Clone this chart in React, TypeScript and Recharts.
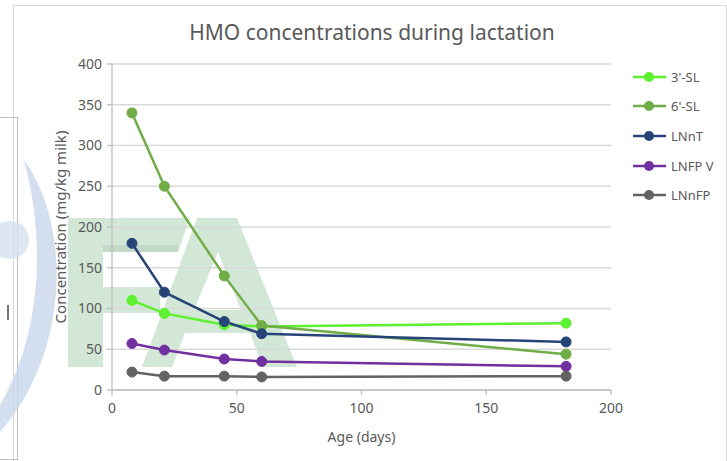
import React from "react";
import { CartesianGrid, Line, LineChart, XAxis, YAxis } from "recharts";

const DAYS = [8, 21, 45, 60, 182];
const SL3 = [110, 94, 80, 78, 82];
const SL6 = [340, 250, 140, 79, 44];
const LNNT = [180, 120, 84, 69, 59];
const LNFPV = [57, 49, 38, 35, 29];
const LNNFP = [22, 17, 17, 16, 17];

const X_TICKS = [0, 50, 100, 150, 200];
const Y_TICKS = [0, 50, 100, 150, 200, 250, 300, 350, 400];

const SERIES = [
  { key: "3'-SL", values: SL3, color: "#5cf02e" },
  { key: "6'-SL", values: SL6, color: "#70ad47" },
  { key: "LNnT", values: LNNT, color: "#264478" },
  { key: "LNFP V", values: LNFPV, color: "#7030a0" },
  { key: "LNnFP", values: LNNFP, color: "#636363" },
];

const data = DAYS.map((d, i) => {
  const row: Record<string, number> = { day: d };
  SERIES.forEach((s) => (row[s.key] = s.values[i]));
  return row;
});

const FONT = "'Noto Sans', 'Open Sans', sans-serif";
const GREY = "#595959";

const LegendBox = () => (
  <div style={{ position: "absolute", left: 632, top: 62, fontFamily: FONT, fontSize: 13, color: GREY }}>
    {SERIES.map((s) => (
      <div key={s.key} style={{ display: "flex", alignItems: "center", height: 29.6 }}>
        <svg width={36} height={12}>
          <line x1={1} y1={6} x2={34} y2={6} stroke={s.color} strokeWidth={2.5} />
          <circle cx={17} cy={6} r={5} fill={s.color} />
        </svg>
        <span style={{ marginLeft: 3 }}>{s.key}</span>
      </div>
    ))}
  </div>
);

// faint logo behind the chart (decoration only)
const Watermark = () => (
  <svg width={727} height={461} style={{ position: "absolute", left: 0, top: 0 }}>
    <g opacity={0.8}>
      <path d="M24,160 C70,222 72,350 0,432 L0,405 C38,340 48,250 24,160 Z" fill="#c9d8ec" />
      <circle cx={10} cy={240} r={19} fill="#d5e0ef" />
    </g>
    <rect x={7} y={305} width={2} height={15} fill="#777" />
    <g fill="#a8d0b0" opacity={0.5}>
      <path d="M68,218 L190,218 L178,252 L103,252 L103,287 L160,287 L160,313 L103,313 L103,367 L68,367 Z" />
      <path
        fillRule="evenodd"
        d="M197,218 L237,218 L297,367 L263,367 L250,333 L185,333 L172,367 L142,367 Z M218,252 L241,310 L194,310 Z"
      />
    </g>
    <rect x={103} y={245} width={75} height={7} fill="#9bb8a4" opacity={0.3} />
  </svg>
);

export default function App() {
  return (
    <div style={{ position: "absolute", left: 0, top: 0, width: 727, height: 461, background: "#fff", overflow: "hidden" }}>
      <div style={{ position: "absolute", left: 13, top: 5, width: 712, height: 470, borderTop: "1px solid #d9d9d9", borderLeft: "1px solid #d9d9d9", borderRight: "1px solid #d9d9d9" }} />
      <div style={{ position: "absolute", left: -2, top: 117, width: 19, height: 341, borderTop: "1px solid #bfbfbf", borderRight: "1px solid #bfbfbf", borderBottom: "1px solid #bfbfbf" }} />
      <Watermark />
      <div
        style={{
          position: "absolute",
          left: 0,
          width: 744,
          top: 18,
          textAlign: "center",
          fontFamily: FONT,
          fontSize: 21,
          color: GREY,
        }}
      >
        HMO concentrations during lactation
      </div>
      <div style={{ position: "absolute", left: 0, top: 0 }}>
        <LineChart
          width={727}
          height={461}
          data={data}
          margin={{ top: 64, right: 116, bottom: 41, left: 62 }}
          style={{ fontFamily: FONT }}
        >
          <CartesianGrid horizontal vertical={false} stroke="#d9d9d9" strokeWidth={1.3} />
          <XAxis
            dataKey="day"
            type="number"
            domain={[0, 200]}
            ticks={X_TICKS}
            height={30}
            stroke="#bfbfbf"
            strokeWidth={1.3}
            tickSize={5}
            tickMargin={8}
            tick={{ fill: GREY, fontSize: 14 }}
            label={{ value: "Age (days)", position: "insideBottom", offset: -22, fill: GREY, fontSize: 14 }}
          />
          <YAxis
            type="number"
            domain={[0, 400]}
            ticks={Y_TICKS}
            width={50}
            stroke="#bfbfbf"
            strokeWidth={1.3}
            tickSize={5}
            tickMargin={5}
            tick={{ fill: GREY, fontSize: 14 }}
            label={() => (
              <text
                x={60}
                y={227}
                transform="rotate(-90, 60, 227)"
                textAnchor="middle"
                dominantBaseline="central"
                fill={GREY}
                fontSize={15}
              >
                Concentration (mg/kg milk)
              </text>
            )}
          />
          {SERIES.map((s) => (
            <Line
              key={s.key}
              dataKey={s.key}
              type="linear"
              stroke={s.color}
              strokeWidth={2.5}
              dot={{ r: 5, fill: s.color, stroke: s.color, strokeWidth: 1 }}
              isAnimationActive={false}
            />
          ))}
        </LineChart>
      </div>
      <LegendBox />
    </div>
  );
}
